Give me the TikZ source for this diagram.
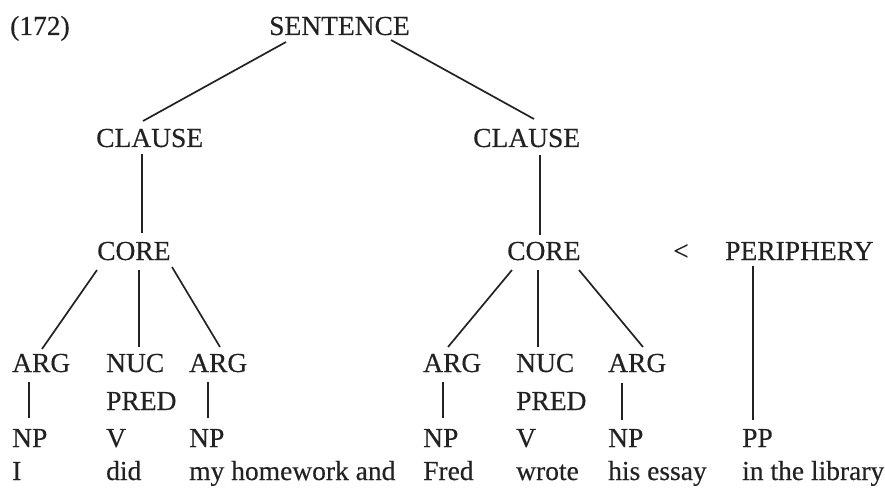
\documentclass[tikz,border=0pt]{standalone}
\usepackage{fontspec}
\setmainfont{Liberation Serif}
\newfontfamily\treefont{Liberation Serif}[FakeBold=0.35]
\usetikzlibrary{calc}
\definecolor{ink}{RGB}{34,34,34}
\begin{document}
\begin{tikzpicture}[x=1pt,y=-1pt,
  lbl/.style={anchor=base west,inner sep=0pt,text=ink,
    font=\treefont\fontsize{27.5}{33}\selectfont},
  edge/.style={draw=ink,line width=1.7pt},
  vedge/.style={draw=ink,line width=1.3pt}]
\useasboundingbox (0,0) rectangle (885,489);

% example number and root
\node[lbl] (num)  at (10,35)  {(172)};
\node[lbl] (sent) at (269,35) {SENTENCE};

% clause level
\node[lbl] (clL) at (96,147)  {CLAUSE};
\node[lbl] (clR) at (473,147) {CLAUSE};

% core / periphery level
\node[lbl] (coL) at (97,260)  {CORE};
\node[lbl] (coR) at (507,260) {CORE};
\node[lbl] (lt)  at (673,260) {<};
\node[lbl] (per) at (725,260) {PERIPHERY};

% argument / nucleus level
\node[lbl] (argLa) at (12,372)  {ARG};
\node[lbl] (nucL)  at (106,372) {NUC};
\node[lbl] (argLb) at (189,372) {ARG};
\node[lbl] (predL) at (106,410) {PRED};
\node[lbl] (argRa) at (423,372) {ARG};
\node[lbl] (nucR)  at (516,372) {NUC};
\node[lbl] (argRb) at (608,372) {ARG};
\node[lbl] (predR) at (516,410) {PRED};

% categories
\node[lbl] (npLa) at (12,447)  {NP};
\node[lbl] (vL)   at (106,447) {V};
\node[lbl] (npLb) at (189,447) {NP};
\node[lbl] (npRa) at (423,447) {NP};
\node[lbl] (vR)   at (516,447) {V};
\node[lbl] (npRb) at (608,447) {NP};
\node[lbl] (pp)   at (742,447) {PP};

% words
\node[lbl] (wI)    at (12,480)  {I};
\node[lbl] (wdid)  at (106,480) {did};
\node[lbl] (whw)   at (189,480) {my homework and};
\node[lbl] (wfred) at (423,480) {Fred};
\node[lbl] (wwrote) at (516,480) {wrote};
\node[lbl] (wessay) at (608,480) {his essay};
\node[lbl] (wlib)  at (742,480) {in the library};

% branches
\path[edge]  ($(sent.base west)+(17,7)$)  -- ($(clL.base west)+(47,-26)$);
\path[edge]  ($(sent.base west)+(122,5)$) -- ($(clR.base west)+(61,-28)$);
\path[vedge] ($(clL.base west)+(46,7)$)   -- ($(coL.base west)+(45,-27)$);
\path[vedge] ($(clR.base west)+(67,8)$)   -- ($(coR.base west)+(33,-25)$);

\path[edge]  ($(coL.base west)+(0,10)$)   -- ($(argLa.base west)+(30,-23)$);
\path[vedge] ($(coL.base west)+(42,10)$)  -- ($(nucL.base west)+(33,-25)$);
\path[edge]  ($(coL.base west)+(75,7)$)   -- ($(argLb.base west)+(31,-25)$);
\path[vedge] ($(argLa.base west)+(17,10)$) -- ($(npLa.base west)+(17,-29)$);
\path[vedge] ($(argLb.base west)+(19,10)$) -- ($(npLb.base west)+(19,-29)$);

\path[edge]  ($(coR.base west)+(5,10)$)   -- ($(argRa.base west)+(25,-25)$);
\path[vedge] ($(coR.base west)+(31,10)$)  -- ($(nucR.base west)+(22,-25)$);
\path[edge]  ($(coR.base west)+(72,10)$)  -- ($(argRb.base west)+(35,-25)$);
\path[vedge] ($(argRa.base west)+(20,10)$) -- ($(npRa.base west)+(20,-29)$);
\path[vedge] ($(argRb.base west)+(14,11)$) -- ($(npRb.base west)+(14,-27)$);

\path[vedge] ($(per.base west)+(28,6)$)   -- ($(pp.base west)+(11,-27)$);
\end{tikzpicture}
\end{document}
